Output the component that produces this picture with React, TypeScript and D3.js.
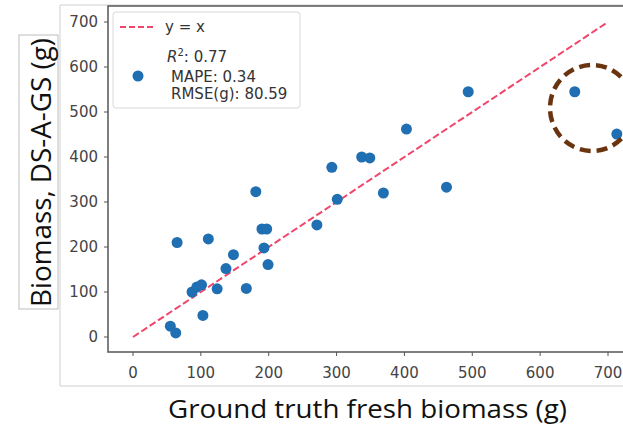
import { useRef, useEffect } from "react";
import * as d3 from "d3";

/** ground truth vs predicted biomass (g) */
const groundTruth = [
  55, 63, 65, 87, 94, 101, 103, 111, 124, 137, 148, 167, 181, 190, 197, 193,
  199, 271, 293, 301, 337, 349, 369, 403, 462, 494, 651, 713,
];
const predicted = [
  24, 9, 210, 100, 111, 116, 48, 218, 107, 152, 183, 108, 323, 240, 240, 198,
  161, 249, 377, 306, 400, 398, 320, 462, 333, 545, 545, 451,
];
const xTicks = [0, 100, 200, 300, 400, 500, 600, 700];
const yTicks = [0, 100, 200, 300, 400, 500, 600, 700];
const metrics = ["MAPE: 0.34", "RMSE(g): 80.59"];

const App = () => {
  const ref = useRef<SVGSVGElement | null>(null);

  useEffect(() => {
    const svg = d3.select(ref.current);
    svg.selectAll("*").remove();

    const x = d3.scaleLinear().domain([0, 700]).range([133, 608]);
    const y = d3.scaleLinear().domain([0, 700]).range([337, 22]);
    const left = 108, bottom = 352, top = 6;

    // outer frame of the pasted figure
    svg
      .append("path")
      .attr("d", "M 623,5 H 60 V 386 H 623")
      .attr("fill", "none")
      .attr("stroke", "#cfcfcf")
      .attr("stroke-width", 1);

    // spines
    svg
      .append("path")
      .attr("d", `M 640,${top} H ${left} V ${bottom} H 640`)
      .attr("fill", "none")
      .attr("stroke", "#555")
      .attr("stroke-width", 1.5);

    const tickFont = "DejaVu Sans, sans-serif";

    // x ticks
    const gx = svg.append("g");
    xTicks.forEach((t) => {
      gx.append("line")
        .attr("x1", x(t)).attr("x2", x(t))
        .attr("y1", bottom).attr("y2", bottom + 4)
        .attr("stroke", "#555");
      gx.append("text")
        .attr("x", x(t)).attr("y", 378)
        .attr("text-anchor", "middle")
        .attr("font-family", tickFont)
        .attr("font-size", 15)
        .attr("fill", "#444")
        .text(t);
    });

    // y ticks
    const gy = svg.append("g");
    yTicks.forEach((t) => {
      gy.append("line")
        .attr("x1", left - 4).attr("x2", left)
        .attr("y1", y(t)).attr("y2", y(t))
        .attr("stroke", "#555");
      gy.append("text")
        .attr("x", 98).attr("y", y(t) + 5)
        .attr("text-anchor", "end")
        .attr("font-family", tickFont)
        .attr("font-size", 15)
        .attr("fill", "#444")
        .text(t);
    });

    // y = x reference line
    svg
      .append("line")
      .attr("x1", x(0)).attr("y1", y(0))
      .attr("x2", x(700)).attr("y2", y(700))
      .attr("stroke", "#f0466a")
      .attr("stroke-width", 2)
      .attr("stroke-dasharray", "7 3");

    // points
    svg
      .append("g")
      .selectAll("circle")
      .data(groundTruth.map((g, i) => [g, predicted[i]]))
      .join("circle")
      .attr("cx", (d) => x(d[0]))
      .attr("cy", (d) => y(d[1]))
      .attr("r", 5.5)
      .attr("fill", "#1f6fb2");

    // legend
    const lg = svg.append("g");
    lg.append("rect")
      .attr("x", 113).attr("y", 12)
      .attr("width", 187).attr("height", 96)
      .attr("rx", 3)
      .attr("fill", "white")
      .attr("fill-opacity", 0.85)
      .attr("stroke", "#d8d8d8");
    lg.append("line")
      .attr("x1", 120).attr("x2", 153)
      .attr("y1", 27).attr("y2", 27)
      .attr("stroke", "#f0466a")
      .attr("stroke-width", 2)
      .attr("stroke-dasharray", "6 3");
    lg.append("text")
      .attr("x", 165).attr("y", 32)
      .attr("font-family", tickFont)
      .attr("font-size", 15)
      .attr("fill", "#333")
      .text("y = x");
    lg.append("circle")
      .attr("cx", 138).attr("cy", 76)
      .attr("r", 5.5)
      .attr("fill", "#1f6fb2");
    const r2 = lg.append("text")
      .attr("x", 167).attr("y", 62)
      .attr("font-family", tickFont)
      .attr("font-size", 15)
      .attr("fill", "#333");
    r2.append("tspan").attr("font-style", "italic").text("R");
    r2.append("tspan").attr("font-size", 10).attr("dy", -6).text("2");
    r2.append("tspan").attr("dy", 6).text(": 0.77");
    metrics.forEach((m, i) => {
      lg.append("text")
        .attr("x", 171).attr("y", 82 + i * 17)
        .attr("font-family", tickFont)
        .attr("font-size", 15)
        .attr("fill", "#333")
        .text(m);
    });

    // highlighted outliers
    svg
      .append("ellipse")
      .attr("cx", 592).attr("cy", 108)
      .attr("rx", 42).attr("ry", 43)
      .attr("fill", "none")
      .attr("stroke", "#6b3410")
      .attr("stroke-width", 4.5)
      .attr("stroke-dasharray", "11 6");

    // axis labels
    const labelFont = "Open Sans, sans-serif";
    svg
      .append("text")
      .attr("x", 168).attr("y", 418)
      .attr("font-family", labelFont)
      .attr("font-size", 26)
      .attr("textLength", 399)
      .attr("lengthAdjust", "spacingAndGlyphs")
      .attr("fill", "#111")
      .text("Ground truth fresh biomass (g)");

    svg
      .append("rect")
      .attr("x", 19).attr("y", 35)
      .attr("width", 39).attr("height", 274)
      .attr("fill", "none")
      .attr("stroke", "#bdbdbd");
    svg
      .append("text")
      .attr("transform", "translate(51,307) rotate(-90)")
      .attr("font-family", labelFont)
      .attr("font-size", 28)
      .attr("textLength", 269)
      .attr("lengthAdjust", "spacingAndGlyphs")
      .attr("fill", "#111")
      .text("Biomass, DS-A-GS (g)");
  }, []);

  return (
    <>
      <style>{`body{margin:0}`}</style>
      <svg ref={ref} width={623} height={426} style={{ display: "block", background: "white" }} />
    </>
  );
};

export default App;
